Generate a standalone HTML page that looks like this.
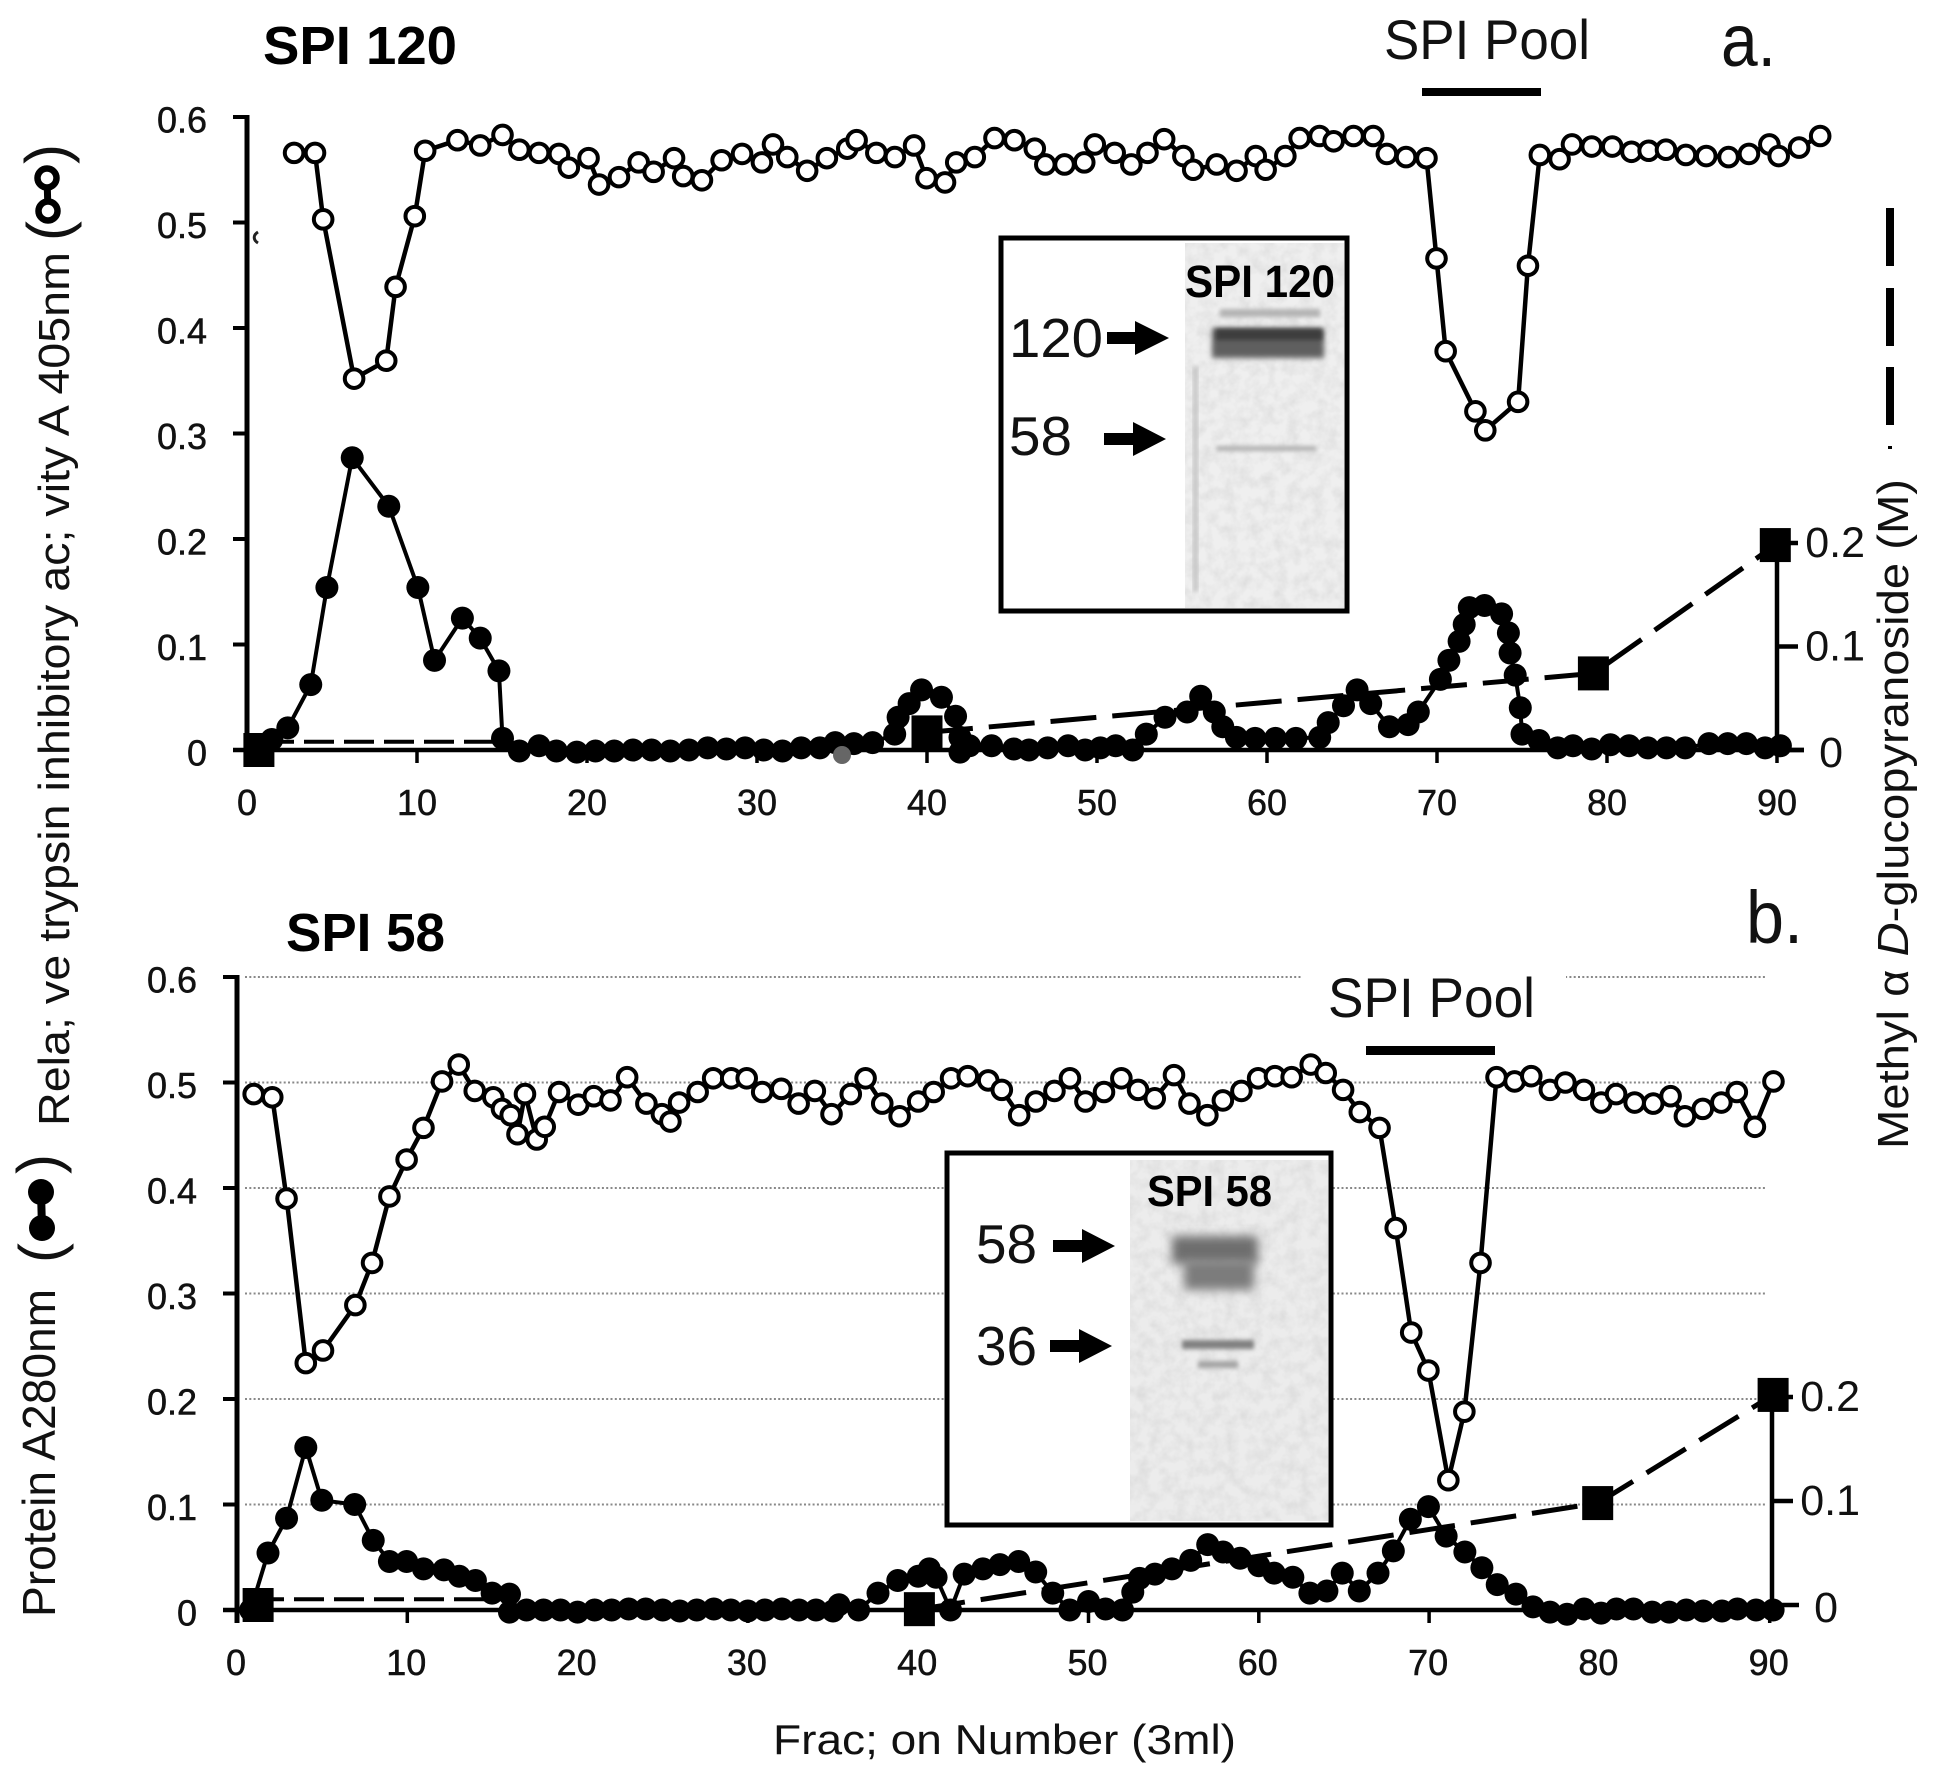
<!DOCTYPE html>
<html lang="en">
<head>
<meta charset="utf-8">
<title>SPI 120 and SPI 58 chromatography</title>
<style>
html,body{margin:0;padding:0;background:#fff;}
svg{display:block;}
text{font-family:"Liberation Sans",sans-serif;fill:#111;}
.b{font-weight:bold;fill:#000;}
.tick{stroke:#111;stroke-width:.5;}
</style>
</head>
<body>
<svg xmlns="http://www.w3.org/2000/svg" width="1937" height="1776" viewBox="0 0 1937 1776">
<defs>
<filter id="blur5" x="-30%" y="-60%" width="160%" height="220%"><feGaussianBlur stdDeviation="5"/></filter>
<filter id="blur3" x="-30%" y="-60%" width="160%" height="220%"><feGaussianBlur stdDeviation="3"/></filter>
<filter id="blur1" x="-20%" y="-200%" width="140%" height="500%"><feGaussianBlur stdDeviation="2"/></filter>
<filter id="gelnoise" x="0" y="0" width="100%" height="100%">
<feTurbulence type="fractalNoise" baseFrequency="0.08" numOctaves="3" seed="4"/>
<feColorMatrix type="matrix" values="0 0 0 0 0.55  0 0 0 0 0.55  0 0 0 0 0.55  0.7 0 0 0 -0.25"/>
</filter>
</defs>

<g id="grid-b"></g>
<rect x="1302" y="968" width="264" height="18" fill="#fff"/>

<g>
<rect x="1001" y="238" width="346" height="373" fill="#fff" stroke="#000" stroke-width="5"/>
<rect x="1185" y="243" width="159" height="365" fill="#efefef"/>
<rect x="1185" y="243" width="159" height="365" filter="url(#gelnoise)"/>
<rect x="1193" y="367" width="5" height="225" fill="#c4c4c4" filter="url(#blur1)"/>
<rect x="1212" y="328" width="112" height="30" fill="#5e5e5e" filter="url(#blur3)"/>
<rect x="1216" y="329" width="106" height="11" fill="#3c3c3c" filter="url(#blur1)"/>
<rect x="1220" y="309" width="100" height="8" fill="#b4b4b4" filter="url(#blur1)"/>
<rect x="1216" y="446" width="100" height="5" fill="#b0b0b0" filter="url(#blur1)"/>
<text class="b" x="1185" y="297" font-size="45" textLength="150" lengthAdjust="spacingAndGlyphs">SPI 120</text>
<text x="1009" y="357" font-size="55" textLength="94" lengthAdjust="spacingAndGlyphs">120</text>
<path d="M1107 332H1135V321L1169 338L1135 355V344H1107Z" fill="#000"/>
<text x="1009" y="455" font-size="55" textLength="63" lengthAdjust="spacingAndGlyphs">58</text>
<path d="M1104 433H1133V422L1166 439L1133 456V445H1104Z" fill="#000"/>
</g>

<g>
<rect x="947" y="1153" width="384" height="372" fill="#fff" stroke="#000" stroke-width="5"/>
<rect x="1130" y="1160" width="198" height="361" fill="#ececec"/>
<rect x="1130" y="1160" width="198" height="361" filter="url(#gelnoise)"/>
<rect x="1172" y="1236" width="86" height="28" fill="#6e6e6e" filter="url(#blur5)"/>
<rect x="1184" y="1260" width="70" height="30" fill="#7c7c7c" filter="url(#blur5)"/>
<rect x="1182" y="1340" width="72" height="9" fill="#808080" filter="url(#blur1)"/>
<rect x="1198" y="1361" width="40" height="7" fill="#a4a4a4" filter="url(#blur1)"/>
<text class="b" x="1147" y="1206" font-size="44" textLength="125" lengthAdjust="spacingAndGlyphs">SPI 58</text>
<text x="976" y="1263" font-size="55" textLength="61" lengthAdjust="spacingAndGlyphs">58</text>
<path d="M1053 1240H1082V1229L1115 1246L1082 1263V1252H1053Z" fill="#000"/>
<text x="976" y="1365" font-size="55" textLength="61" lengthAdjust="spacingAndGlyphs">36</text>
<path d="M1050 1340H1079V1329L1112 1346L1079 1363V1352H1050Z" fill="#000"/>
</g>

<path d="M258 232C253 235 253 240 258 243" fill="none" stroke="#222" stroke-width="3"/>
<g id="plot-a"></g>
<g id="plot-b"></g>

<text class="b" x="263" y="64" font-size="54" textLength="194" lengthAdjust="spacingAndGlyphs">SPI 120</text>
<text class="b" x="286" y="951" font-size="54" textLength="159" lengthAdjust="spacingAndGlyphs">SPI 58</text>
<text x="1384" y="59" font-size="56" textLength="206" lengthAdjust="spacingAndGlyphs">SPI Pool</text>
<rect x="1422" y="88" width="119" height="8" fill="#000"/>
<text x="1328" y="1017" font-size="56" textLength="207" lengthAdjust="spacingAndGlyphs">SPI Pool</text>
<rect x="1366" y="1046" width="129" height="9" fill="#000"/>
<text x="1721" y="66" font-size="74" textLength="55" lengthAdjust="spacingAndGlyphs">a.</text>
<text x="1746" y="943" font-size="74" textLength="57" lengthAdjust="spacingAndGlyphs">b.</text>

<text transform="translate(69 1126) rotate(-90)" font-size="44" textLength="874" lengthAdjust="spacingAndGlyphs">Rela; ve trypsin inhibitory ac; vity A 405nm</text>
<text transform="translate(69 241) rotate(-90)" font-size="60">(</text>
<text transform="translate(67 164) rotate(-90)" font-size="60">)</text>
<g>
<line x1="47" y1="178" x2="48" y2="211" stroke="#000" stroke-width="7"/>
<circle cx="47" cy="178" r="9.5" fill="#fff" stroke="#000" stroke-width="6.5"/>
<circle cx="48" cy="211" r="9.5" fill="#fff" stroke="#000" stroke-width="6.5"/>
</g>
<text transform="translate(55 1617) rotate(-90)" font-size="46" textLength="328" lengthAdjust="spacingAndGlyphs">Protein A280nm</text>
<text transform="translate(61 1263) rotate(-90)" font-size="60">(</text>
<text transform="translate(59 1174) rotate(-90)" font-size="60">)</text>
<g>
<line x1="41" y1="1192" x2="42" y2="1228" stroke="#000" stroke-width="8"/>
<circle cx="41" cy="1192" r="13" fill="#000"/>
<circle cx="42" cy="1228" r="13" fill="#000"/>
</g>

<text transform="translate(1908 1149) rotate(-90)" font-size="44" textLength="670" lengthAdjust="spacingAndGlyphs">Methyl α <tspan font-style="italic">D</tspan>-glucopyranoside (M)</text>
<g fill="#000">
<rect x="1886" y="208" width="8" height="58"/>
<rect x="1886" y="288" width="8" height="58"/>
<rect x="1886" y="367" width="8" height="58"/>
<rect x="1888" y="446" width="4" height="3"/>
</g>
<text x="773" y="1754" font-size="42" textLength="463" lengthAdjust="spacingAndGlyphs">Frac; on Number (3ml)</text>

<script>
// shared axis labels
var xTicks = [0,10,20,30,40,50,60,70,80,90];
var yTicks = [0,0.1,0.2,0.3,0.4,0.5,0.6];
var yTickLabels = ['0','0.1','0.2','0.3','0.4','0.5','0.6'];
var rightTicks = [0,0.1,0.2];
var rightTickLabels = ['0','0.1','0.2'];

// panel a: trypsin inhibitory activity
var aOpenX = [2.77,4,4.48,6.3,8.19,8.74,9.87,10.48,12.38,13.72,15.03,16.02,17.18,18.35,18.93,20.09,20.71,21.88,23.04,23.92,25.12,25.66,26.76,27.92,29.12,30.29,30.94,31.78,32.95,34.11,35.31,35.86,37.02,38.11,39.24,39.97,41.06,41.72,42.81,43.97,45.14,46.34,46.96,48.09,49.25,49.87,51.04,52.02,52.97,53.95,55.08,55.66,57.04,58.21,59.34,59.92,61.08,61.92,63.09,63.92,65.09,66.25,67.05,68.18,69.38,69.97,70.51,72.26,72.84,74.77,75.35,76.05,77.21,77.94,79.1,80.31,81.44,82.45,83.47,84.64,85.84,87.15,88.35,89.55,90.1,91.3,92.54];
var aOpenY = [.566,.566,.503,.352,.369,.439,.506,.568,.578,.573,.583,.569,.566,.565,.552,.561,.536,.543,.557,.548,.561,.544,.540,.559,.565,.557,.574,.562,.549,.561,.570,.578,.566,.562,.573,.542,.538,.557,.562,.580,.578,.570,.555,.555,.557,.574,.566,.555,.566,.579,.563,.550,.555,.549,.563,.550,.563,.580,.582,.577,.582,.582,.565,.562,.561,.466,.378,.321,.303,.330,.459,.564,.560,.574,.572,.572,.567,.568,.569,.564,.563,.562,.565,.574,.563,.571,.582];

// panel a: protein A280
var aClosedX = [.7,1.46,2.4,3.75,4.7,6.19,8.34,10.05,11.03,12.67,13.72,14.82,15.03,16.02,17.18,18.2,19.4,20.5,21.6,22.7,23.8,24.9,26,27.1,28.2,29.3,30.4,31.5,32.6,33.7,34.6,35.7,36.8,38.1,38.3,38.95,39.68,40.85,41.68,41.94,41.94,42.5,43.8,45.1,46,47.1,48.3,49.3,50.2,51.1,52.1,52.9,54,55.3,56.1,56.9,57.4,58.2,59.3,60.5,61.7,63.1,63.6,64.5,65.3,66.1,67.2,68.3,68.9,70.2,70.7,71.3,71.6,71.9,72.8,73.8,74.2,74.3,74.6,74.9,75,76,77.1,78,79.1,80.2,81.3,82.4,83.5,84.6,86,87.1,88.2,89.3,90.2];
var aClosedY = [-.003,.01,.021,.062,.154,.277,.231,.154,.085,.125,.106,.075,.011,-.001,.004,-.001,-.002,-.001,-.001,0,0,-.001,0,.002,.001,.002,0,-.001,.002,.002,.007,.006,.007,.015,.031,.044,.057,.050,.032,.012,-.002,.004,.004,.001,0,.002,.004,0,.002,.004,0,.015,.031,.036,.051,.036,.022,.012,.011,.011,.011,.012,.026,.042,.057,.044,.022,.024,.036,.067,.085,.103,.119,.135,.137,.129,.111,.092,.071,.040,.015,.009,.002,.004,.001,.005,.004,.002,.002,.002,.006,.006,.006,.002,.004];

// panel a: methyl glucopyranoside gradient
var aSquareX = [.7,40,79.2,89.9];
var aSquareY = [0,.017,.074,.198];
var aFlatDashX = [1,15];
var aFlatDashY = [.008,.008];
var aRiseDashX = [40,79.2,89.9];
var aRiseDashY = [.017,.074,.198];

// panel b: trypsin inhibitory activity
var bOpenX = [.98,2.07,2.91,4.04,5.05,6.95,7.93,8.95,9.96,10.95,12.04,13.02,13.96,15.05,15.56,16.07,16.47,16.91,17.6,18.07,18.91,20.04,20.95,21.93,22.91,24.04,24.95,25.45,25.96,27.05,27.96,29.02,29.93,30.84,31.96,32.98,33.93,34.91,36.04,36.91,37.89,38.91,40,40.91,41.93,42.91,44.11,44.91,45.93,46.91,48,48.91,49.82,50.91,51.93,52.91,53.89,55.02,55.93,56.98,57.89,58.98,59.96,60.95,61.93,63.05,63.93,64.95,65.93,67.09,68.04,68.95,69.96,71.13,72.07,73.02,73.96,75.02,76,77.09,78,79.09,80.11,80.98,82.07,83.16,84.18,85.02,86.07,87.16,88.07,89.13,90.22];
var bOpenY = [.489,.486,.390,.234,.246,.289,.329,.392,.427,.457,.501,.517,.492,.486,.475,.469,.451,.489,.446,.458,.491,.479,.487,.483,.505,.480,.470,.463,.481,.491,.504,.504,.504,.491,.494,.480,.492,.470,.489,.504,.480,.468,.482,.491,.504,.506,.502,.493,.469,.482,.492,.504,.482,.491,.504,.493,.485,.507,.480,.469,.483,.492,.504,.506,.505,.517,.509,.493,.472,.457,.362,.263,.227,.123,.188,.329,.505,.501,.506,.493,.500,.493,.481,.489,.481,.480,.487,.468,.475,.481,.491,.458,.501];

// panel b: protein A280
var bClosedX = [.8,1.82,2.91,4.04,4.98,6.91,8,8.95,9.96,10.95,12.15,13.05,14,14.98,16,16,17,18,19,20,21,22,23,24,25,26,27,28,29,30,31,32,33,34,35,35.35,36.5,37.64,38.8,40,40.65,41.05,41.9,42.7,43.8,44.8,45.9,46.9,47.9,48.9,50,51,52,52.6,53,53.9,54.9,56,57,57.9,58.9,60,60.9,62,63,64,64.9,65.9,67,67.9,68.9,69.96,71,72.1,73.1,74,75.1,76.1,77.1,78.1,79.1,80.1,81,82,83.1,84.1,85.1,86.1,87.2,88.1,89.2,90.2];
var bClosedY = [0,.054,.087,.154,.104,.100,.066,.046,.046,.039,.038,.032,.028,.016,.015,-.002,0,0,0,-.002,0,0,.001,.001,0,-.001,0,.001,0,-.001,0,.001,0,0,-.001,.005,0,.016,.028,.032,.039,.031,0,.034,.039,.043,.046,.036,.016,0,.008,.001,0,.017,.030,.034,.039,.047,.062,.055,.049,.042,.035,.031,.016,.018,.035,.018,.035,.056,.086,.098,.070,.055,.040,.024,.015,.003,-.002,-.004,.001,-.003,.001,.001,-.002,-.002,0,-.001,-.001,.001,0,0];

// panel b: methyl glucopyranoside gradient
var bSquareX = [1.24,40.07,79.9,90.2];
var bSquareY = [0,-.004,.098,.202];
var bFlatDashX = [1,15];
var bFlatDashY = [.0055,.0055];
var bRiseDashX = [40.07,79.9,90.2];
var bRiseDashY = [-.004,.098,.202];

var NS = 'http://www.w3.org/2000/svg';
function el(parent, tag, attrs) {
  var n = document.createElementNS(NS, tag);
  for (var k in attrs) n.setAttribute(k, attrs[k]);
  parent.appendChild(n);
  return n;
}
function points(xs, ys, fx, fy) {
  return xs.map(function (v, i) { return fx(v).toFixed(1) + ',' + fy(ys[i]).toFixed(1); }).join(' ');
}

function drawPanel(g, o) {
  var fx = function (v) { return o.x0 + v * o.xu; };
  var fy = function (v) { return o.y0 - v * o.yu; };
  var fr = function (v) { return o.r0 - v * o.ru; };

  var leftAxis = el(g, 'line', {x1: o.x0, y1: fy(0.6) - 2, x2: o.x0, y2: o.y0 + 13, stroke: '#000', 'stroke-width': 5});
  
  
  var bottomAxis = el(g, 'line', {x1: o.x0 - 14, y1: o.y0, x2: o.axisEnd, y2: o.y0, stroke: '#000', 'stroke-width': 4.5});
  
  
  var rightAxis = el(g, 'line', {x1: o.rx, y1: fr(0.2), x2: o.rx, y2: o.y0, stroke: '#000', 'stroke-width': 4.5});
  
  

  yTicks.forEach(function (v, i) {
    var t = el(g, 'line', {x1: o.x0 - 14, y1: fy(v), x2: o.x0, y2: fy(v), stroke: '#000', 'stroke-width': 4});
    
    
    var l = el(g, 'text', {x: o.x0 - 40, y: fy(v) + 15.5, 'font-size': 36, 'text-anchor': 'end', 'class': 'tick'});
    l.textContent = yTickLabels[i];
    
    
  });
  rightTicks.forEach(function (v, i) {
    var t = el(g, 'line', {x1: o.rx, y1: fr(v), x2: o.rx + (v === 0 ? 27 : 21), y2: fr(v), stroke: '#000', 'stroke-width': 4.5});
    
    
    var l = el(g, 'text', {x: o.rx + (v === 0 ? 66 : 88), y: fr(v) + (v === 0 ? 17 : 14), 'font-size': 43, 'text-anchor': 'end'});
    l.textContent = rightTickLabels[i];
    
    
  });
  xTicks.forEach(function (v) {
    var t = el(g, 'line', {x1: fx(v), y1: o.y0, x2: fx(v), y2: o.y0 + 13, stroke: '#000', 'stroke-width': 3.5});
    
    
    var l = el(g, 'text', {x: fx(v) + o.labelShift, y: o.labelY, 'font-size': 36, 'text-anchor': 'middle', 'class': 'tick'});
    l.textContent = String(v);
    
    
  });

  var openLine = el(g, 'polyline', {points: points(o.openX, o.openY, fx, fy), fill: 'none', stroke: '#000', 'stroke-width': 4.5, 'stroke-linejoin': 'round'});
  
  
  var closedLine = el(g, 'polyline', {points: points(o.closedX, o.closedY, fx, fy), fill: 'none', stroke: '#000', 'stroke-width': 4, 'stroke-linejoin': 'round'});
  
  

  o.closedX.forEach(function (v, i) {
    var c = el(g, 'circle', {cx: fx(v), cy: fy(o.closedY[i]), r: 11.5, fill: '#000'});
    
    
  });
  o.openX.forEach(function (v, i) {
    var c = el(g, 'circle', {cx: fx(v), cy: fy(o.openY[i]), r: 9.3, fill: '#fff', stroke: '#000', 'stroke-width': 4});
    
    
  });

  var flatDash = el(g, 'polyline', {points: points(o.flatX, o.flatY, fx, fr), fill: 'none', stroke: '#000', 'stroke-width': 4, 'stroke-dasharray': '30 10'});
  
  
  var riseDash = el(g, 'polyline', {points: points(o.riseX, o.riseY, fx, fr), fill: 'none', stroke: '#000', 'stroke-width': 5, 'stroke-dasharray': '46 16'});
  
  
  o.squareX.forEach(function (v, i) {
    var s = el(g, 'rect', {x: fx(v) - 15.5, y: fr(o.squareY[i]) - 17, width: 31, height: 34, fill: '#000'});
    
    
  });
}

drawPanel(document.getElementById('plot-a'), {
  x0: 247, xu: 17, y0: 750, yu: 1055, r0: 750, ru: 1035, rx: 1777, axisEnd: 1804,
  labelY: 815, labelShift: 0,
  openX: aOpenX, openY: aOpenY, closedX: aClosedX, closedY: aClosedY,
  squareX: aSquareX, squareY: aSquareY,
  flatX: aFlatDashX, flatY: aFlatDashY, riseX: aRiseDashX, riseY: aRiseDashY
});
drawPanel(document.getElementById('plot-b'), {
  x0: 237, xu: 17.03, y0: 1610, yu: 1055, r0: 1605, ru: 1040, rx: 1772, axisEnd: 1772,
  labelY: 1675, labelShift: -1,
  openX: bOpenX, openY: bOpenY, closedX: bClosedX, closedY: bClosedY,
  squareX: bSquareX, squareY: bSquareY,
  flatX: bFlatDashX, flatY: bFlatDashY, riseX: bRiseDashX, riseY: bRiseDashY
});

// smudged grey mark in panel a near fraction 35
var smudge = el(document.getElementById('plot-a'), 'circle', {cx: 247 + 35 * 17, cy: 755, r: 9, fill: '#666'});



// panel b dotted gridlines
var gridB = document.getElementById('grid-b');
yTicks.slice(1).forEach(function (v) {
  var gy = 1610 - v * 1055;
  var line = el(gridB, 'line', {x1: 245, y1: gy, x2: 1766, y2: gy, stroke: '#888', 'stroke-width': 2, 'stroke-dasharray': '2 2.3'});
  
  
});
</script>
</svg>
</body>
</html>
